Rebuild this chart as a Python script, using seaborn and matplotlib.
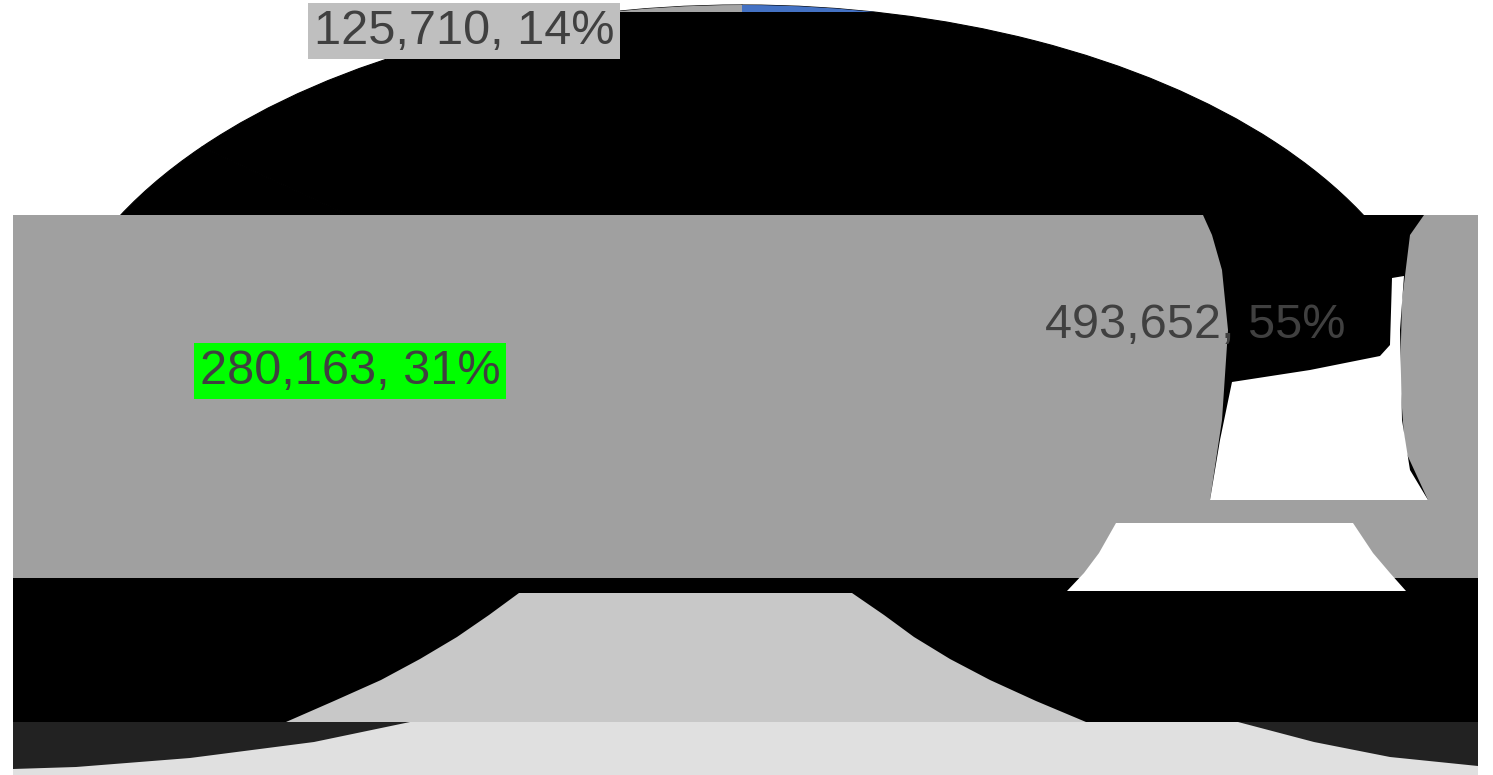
import matplotlib
matplotlib.use("Agg")
import matplotlib.pyplot as plt
from matplotlib.patches import Polygon
import seaborn as sns

# Data: slices in drawing order (clockwise from 12 o'clock)
values = [493652, 280163, 125710]
slice_colors = ["#4472C4", "#ED7D31", "#A5A5A5"]
label_boxes = [None, "#00FF00", "#BFBFBF"]
label_pos = [(1195, 325), (350, 371), (464, 31)]   # pixel positions of data labels

# rendering artefacts of the source picture (pixel coords, y downwards)
gray_band = [(13, 215), (1478, 215), (1478, 578), (13, 578)]
black_window = [(1203, 215), (1424, 215), (1410, 235), (1402, 300), (1400, 380),
                (1405, 450), (1428, 500), (1210, 500), (1222, 420), (1228, 330),
                (1222, 270), (1212, 235)]
white_window = [(1232, 382), (1310, 370), (1380, 356), (1390, 345), (1392, 278), (1404, 276),
                (1400, 330), (1402, 420), (1410, 470), (1428, 500), (1210, 500), (1220, 440)]
black_band = [(13, 578), (1478, 578), (1478, 722), (13, 722)]
light_trap = [(519, 593), (852, 593), (884, 615), (914, 637), (950, 659), (990, 680),
              (1036, 701), (1086, 722), (286, 722), (334, 701), (381, 680), (420, 659),
              (457, 637), (489, 615)]
white_trap = [(1116, 523), (1353, 523), (1373, 553), (1390, 573), (1406, 591),
              (1067, 591), (1084, 573), (1099, 553)]
bottom_band = [(13, 722), (1478, 722), (1478, 775), (13, 775)]
dark_left = [(13, 722), (410, 722), (314, 742), (190, 758), (76, 767), (13, 769)]
dark_right = [(1238, 722), (1478, 722), (1478, 766), (1390, 757), (1314, 742)]

sns.set_theme(style="white")
plt.rcParams["font.family"] = ["Liberation Sans", "DejaVu Sans"]

W, H = 1493, 775
fig = plt.figure(figsize=(W / 100, H / 100), dpi=100)
fig.patch.set_facecolor("white")

cx, cy, a, b = 742, 398, 702, 393
rim_px = 12

# the pie itself, stretched into an ellipse, drawn black
ax = fig.add_axes([0, 0, 1, 1], zorder=1)
ax.pie(values, colors=["black"] * len(values), startangle=90, counterclock=False,
       radius=1, wedgeprops=dict(linewidth=0.8, edgecolor="black", clip_on=True))
ax.set_aspect("auto")
ax.set_xlim(-cx / a, (W - cx) / a)
ax.set_ylim((cy - H) / b, cy / b)
ax.axis("off")

# only the top rim of the pie keeps the slice colours
ax_rim = fig.add_axes([0, 1 - rim_px / H, 1, rim_px / H], zorder=2)
ax_rim.pie(values, colors=slice_colors, startangle=90, counterclock=False,
           radius=1, wedgeprops=dict(linewidth=0, clip_on=True))
ax_rim.set_aspect("auto")
ax_rim.set_xlim(-cx / a, (W - cx) / a)
ax_rim.set_ylim((cy - rim_px) / b, cy / b)
ax_rim.axis("off")

# overlay axes in pixel units with the broken strips
ov = fig.add_axes([0, 0, 1, 1], zorder=3)
ov.set_xlim(0, W)
ov.set_ylim(H, 0)
ov.axis("off")
for pts, col in [(gray_band, "#A0A0A0"), (black_window, "black"), (white_window, "white"),
                 (black_band, "black"), (light_trap, "#C8C8C8"), (white_trap, "white"),
                 (bottom_band, "#E0E0E0"), (dark_left, "#222222"), (dark_right, "#222222")]:
    ov.add_patch(Polygon(pts, closed=True, facecolor=col, edgecolor="none"))

# data labels
total = sum(values)
for v, box, (x, y) in zip(values, label_boxes, label_pos):
    txt = f"{v:,}, {v / total:.0%}"
    bbox = None
    if box:
        bbox = dict(boxstyle="square,pad=0.12", facecolor=box, edgecolor="none")
    ov.text(x, y, txt, ha="center", va="center", fontsize=35, color="#404040",
            bbox=bbox, zorder=5)

fig.savefig("out.png", dpi=100)
plt.close(fig)
